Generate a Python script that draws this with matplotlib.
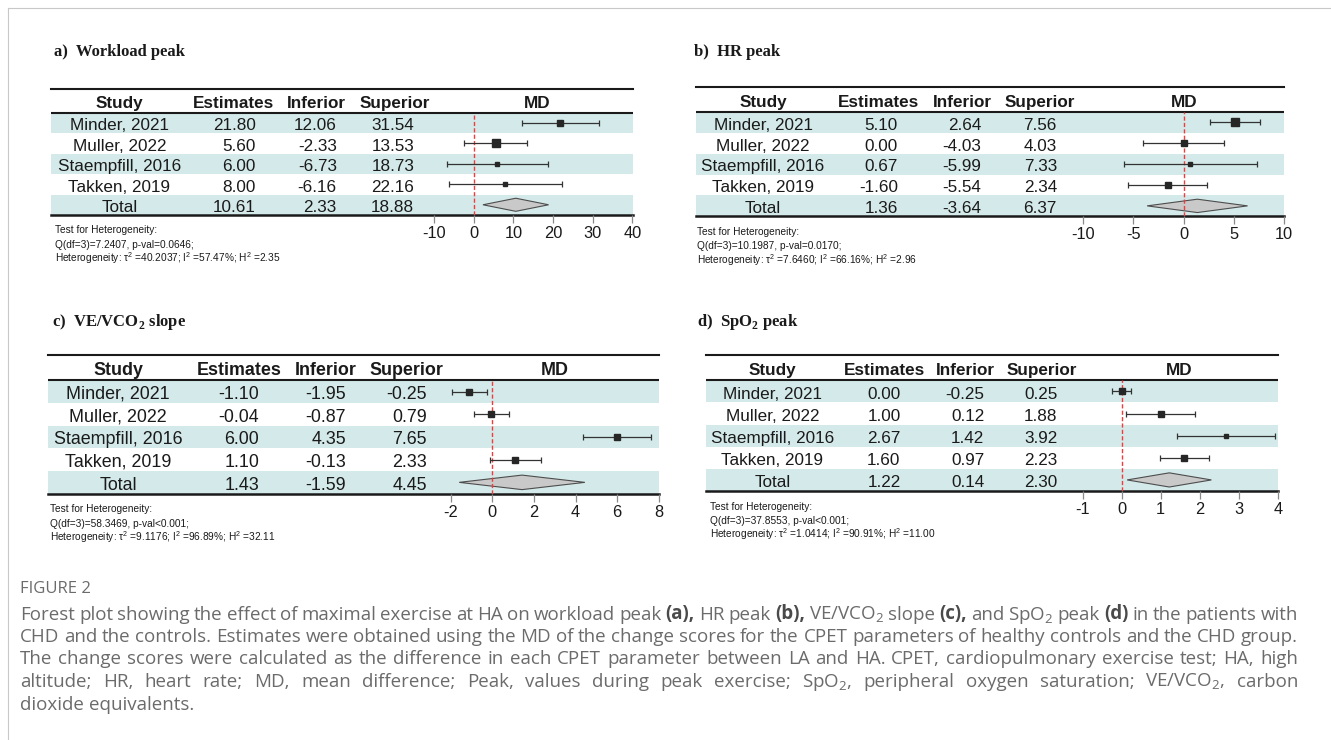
import numpy as np
import matplotlib
matplotlib.use('Agg')
import matplotlib.pyplot as plt
from matplotlib import transforms
from matplotlib.lines import Line2D

plt.rcParams['font.family'] = ['Liberation Sans', 'DejaVu Sans']
plt.rcParams['axes.unicode_minus'] = False

W, H = 1331, 740

# data
studies = ["Minder, 2021", "Muller, 2022", "Staempfill, 2016", "Takken, 2019", "Total"]

workload_est = [21.80, 5.60, 6.00, 8.00, 10.61]
workload_lo = [12.06, -2.33, -6.73, -6.16, 2.33]
workload_hi = [31.54, 13.53, 18.73, 22.16, 18.88]
workload_ticks = [-10, 0, 10, 20, 30, 40]

hr_est = [5.10, 0.00, 0.67, -1.60, 1.36]
hr_lo = [2.64, -4.03, -5.99, -5.54, -3.64]
hr_hi = [7.56, 4.03, 7.33, 2.34, 6.37]
hr_ticks = [-10, -5, 0, 5, 10]

ve_est = [-1.10, -0.04, 6.00, 1.10, 1.43]
ve_lo = [-1.95, -0.87, 4.35, -0.13, -1.59]
ve_hi = [-0.25, 0.79, 7.65, 2.33, 4.45]
ve_ticks = [-2, 0, 2, 4, 6, 8]

spo2_est = [0.00, 1.00, 2.67, 1.60, 1.22]
spo2_lo = [-0.25, 0.12, 1.42, 0.97, 0.14]
spo2_hi = [0.25, 1.88, 3.92, 2.23, 2.30]
spo2_ticks = [-1, 0, 1, 2, 3, 4]

# heterogeneity stats: Q line, tau^2, I^2, H^2
workload_het = ["Q(df=3)=7.2407, p-val=0.0646;", "40.2037", "57.47%", "2.35"]
hr_het = ["Q(df=3)=10.1987, p-val=0.0170;", "7.6460", "66.16%", "2.96"]
ve_het = ["Q(df=3)=58.3469, p-val<0.001;", "9.1176", "96.89%", "32.11"]
spo2_het = ["Q(df=3)=37.8553, p-val<0.001;", "1.0414", "90.91%", "11.00"]

caption = [
    "Forest plot showing the effect of maximal exercise at HA on workload peak (a), HR peak (b), VE/VCO2 slope (c), and SpO2 peak (d) in the patients with",
    "CHD and the controls. Estimates were obtained using the MD of the change scores for the CPET parameters of healthy controls and the CHD group.",
    "The change scores were calculated as the difference in each CPET parameter between LA and HA. CPET, cardiopulmonary exercise test; HA, high",
    "altitude; HR, heart rate; MD, mean difference; Peak, values during peak exercise; SpO2, peripheral oxygen saturation; VE/VCO2, carbon",
    "dioxide equivalents.",
]

BAND = '#d4e9e9'
INK = '#1a1a1a'
CAP_COL = '#6b6b6b'


def box(x0, y0, x1, y1):
    return [x0 / W, 1 - y1 / H, (x1 - x0) / W, (y1 - y0) / H]


fig = plt.figure(figsize=(W / 100, H / 100), dpi=100)

# pixel layout of each panel
panels = [
    dict(title="a)  Workload peak", est=workload_est, lo=workload_lo, hi=workload_hi,
         ticks=workload_ticks, het=workload_het, ms=[6, 7.7, 4.7, 4.2],
         left=51, right=633, top=89, under=112.7, bottom=215, fx0=434, fx1=632.4,
         study=119.4, cols=[(234, 255.5), (316.6, 336.8), (394.4, 414.2)], md=537,
         tx=54, ty=56.5, hx=55, fs=12.3),
    dict(title="b)  HR peak", est=hr_est, lo=hr_lo, hi=hr_hi,
         ticks=hr_ticks, het=hr_het, ms=[8, 5.7, 3.7, 6],
         left=696, right=1284, top=87.3, under=112, bottom=216.3, fx0=1083.3, fx1=1284,
         study=763, cols=[(878.4, 897.8), (962.3, 981.2), (1040, 1057)], md=1184,
         tx=694, ty=56, hx=697, fs=12.3),
    dict(title=r"c)  VE/VCO$_{\mathdefault{2}}$ slope", est=ve_est, lo=ve_lo, hi=ve_hi,
         ticks=ve_ticks, het=ve_het, ms=[6, 6.3, 6, 5.7],
         left=48, right=659, top=355, under=380.3, bottom=493.7, fx0=450.7, fx1=658.7,
         study=118, cols=[(239, 259.3), (325.6, 345.8), (406.7, 427)], md=555,
         tx=52, ty=326, hx=50, fs=12.9),
    dict(title=r"d)  SpO$_{\mathdefault{2}}$ peak", est=spo2_est, lo=spo2_lo, hi=spo2_hi,
         ticks=spo2_ticks, het=spo2_het, ms=[6.3, 5.3, 4.7, 5.7],
         left=706, right=1278, top=355, under=380.3, bottom=491, fx0=1082.7, fx1=1277.7,
         study=772.3, cols=[(884.4, 900.5), (965.3, 984.2), (1041.4, 1057.5)], md=1178.8,
         tx=697, ty=326, hx=710, fs=12.3),
]


def draw_panel(p):
    rowh = (p['bottom'] - p['under']) / 5
    top_row = -(p['under'] - p['top']) / rowh
    fs = p['fs']

    tab = fig.add_axes(box(p['left'], p['top'], p['right'], p['bottom']))
    tab.set_xlim(p['left'], p['right'])
    tab.set_ylim(5, top_row)
    tab.axis('off')
    for i in (0, 2, 4):
        tab.axhspan(i, i + 1, color=BAND, lw=0)
    tab.axhline(top_row, color=INK, lw=1.5, clip_on=False)
    tab.axhline(0, color=INK, lw=1.5)
    tab.axhline(5, color=INK, lw=1.8, clip_on=False)

    tr = transforms.offset_copy(tab.transData, fig=fig, y=-5.2, units='points')
    hy = top_row / 2
    tab.text(p['study'], hy, "Study", transform=tr, ha='center', va='baseline',
             fontsize=fs, fontweight='bold', color=INK)
    for (hc, _), name in zip(p['cols'], ["Estimates", "Inferior", "Superior"]):
        tab.text(hc, hy, name, transform=tr, ha='center', va='baseline',
                 fontsize=fs, fontweight='bold', color=INK)
    tab.text(p['md'], hy, "MD", transform=tr, ha='center', va='baseline',
             fontsize=fs, fontweight='bold', color=INK)

    for i, name in enumerate(studies):
        tab.text(p['study'], i + 0.5, name, transform=tr, ha='center', va='baseline',
                 fontsize=fs, color=INK)
        for (_, rc), vals in zip(p['cols'], [p['est'], p['lo'], p['hi']]):
            tab.text(rc, i + 0.5, f"{vals[i]:.2f}", transform=tr, ha='right',
                     va='baseline', fontsize=fs, color=INK)

    # forest part
    fx = fig.add_axes(box(p['fx0'], p['under'], p['fx1'], p['bottom']))
    ticks = p['ticks']
    fx.set_xlim(ticks[0], ticks[-1])
    fx.set_ylim(5, 0)
    fx.patch.set_visible(False)
    for s in fx.spines.values():
        s.set_visible(False)
    fx.set_yticks([])
    fx.set_xticks(ticks)
    fx.tick_params(axis='x', direction='out', length=5.8, width=0.9, color='#8a8a8a',
                   labelsize=11.8, labelcolor=INK, pad=2)

    est = np.array(p['est'])
    lo = np.array(p['lo'])
    hi = np.array(p['hi'])
    y = np.arange(4) + 0.5
    fx.errorbar(est[:4], y, xerr=[est[:4] - lo[:4], hi[:4] - est[:4]], fmt='none',
                ecolor='#333333', elinewidth=0.9, capsize=2.2, capthick=0.9, zorder=3)
    for xi, yi, m in zip(est[:4], y, p['ms']):
        fx.plot(xi, yi, marker='s', ms=m / 1.389, color='#262626', linestyle='none', zorder=4)
    fx.fill([lo[4], est[4], hi[4], est[4]], [4.5, 4.5 - 0.32, 4.5, 4.5 + 0.32],
            facecolor='#c9c9c9', edgecolor='#4d4d4d', lw=0.8, zorder=2)
    fx.axvline(0, color='#f03c3c', lw=1, ls=(0, (3, 1.6)), zorder=2.5)

    # heterogeneity note
    q, tau, i2, h2 = p['het']
    b = p['bottom']
    hfs = 7.3
    fig.text(p['hx'] / W, 1 - (b + 18.5) / H, "Test for Heterogeneity:", fontsize=hfs,
             va='baseline', color=INK)
    fig.text(p['hx'] / W, 1 - (b + 33) / H, q, fontsize=hfs, va='baseline', color=INK)
    fig.text(p['hx'] / W, 1 - (b + 47.5) / H,
             "Heterogeneity: τ$^{\\mathdefault{2}}$ =" + tau + "; I$^{\\mathdefault{2}}$ =" + i2
             + "; H$^{\\mathdefault{2}}$ =" + h2, fontsize=hfs, va='baseline', color=INK)

    fig.text(p['tx'] / W, 1 - p['ty'] / H, p['title'],
             family=['Liberation Serif', 'DejaVu Serif'], fontweight='bold',
             fontsize=12, va='baseline', color=INK)


for p in panels:
    draw_panel(p)

# frame lines
fig.add_artist(Line2D([8 / W, 8 / W], [0, 1 - 8 / H], transform=fig.transFigure,
                      color='#c8c8c8', lw=0.8))
fig.add_artist(Line2D([8 / W, 1], [1 - 8 / H, 1 - 8 / H], transform=fig.transFigure,
                      color='#c8c8c8', lw=0.8))

# caption
CAP_FS = 13.5
CAP_X0, CAP_X1 = 20, 1298
fig.text(CAP_X0 / W, 1 - 593 / H, "FIGURE 2", family=['Open Sans', 'DejaVu Sans'],
         fontsize=12, color=CAP_COL, va='baseline')

rend = fig.canvas.get_renderer()


def put_caption(line, ybase, justify):
    arts = []
    for w in line.split(' '):
        w2 = w.replace('VCO2', r'VCO$_{\mathdefault{2}}$').replace('SpO2', r'SpO$_{\mathdefault{2}}$')
        bold = w[:3] in ('(a)', '(b)', '(c)', '(d)')
        arts.append(fig.text(0, 1 - ybase / H, w2, family=['Open Sans', 'DejaVu Sans'],
                             fontsize=CAP_FS, color='#4a4a4a' if bold else CAP_COL,
                             fontweight='bold' if bold else 'normal', va='baseline'))
    widths = [a.get_window_extent(rend).width for a in arts]
    if justify and len(arts) > 1:
        gap = (CAP_X1 - CAP_X0 - sum(widths)) / (len(arts) - 1)
    else:
        gap = 0.26 * CAP_FS * 100 / 72
    x = CAP_X0
    for a, wd in zip(arts, widths):
        a.set_x(x / W)
        x += wd + gap


for k, line in enumerate(caption):
    put_caption(line, 619.5 + 22.5 * k, k < len(caption) - 1)

fig.savefig('out.png', dpi=100)
